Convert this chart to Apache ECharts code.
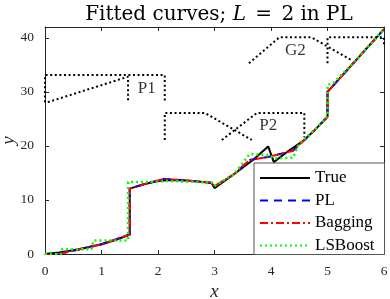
<!DOCTYPE html>
<html>
<head>
<meta charset="utf-8">
<script src="https://cdn.jsdelivr.net/npm/echarts@6/dist/echarts.min.js"></script>
<style>html,body{margin:0;padding:0;background:#fff}#c{width:390px;height:299px}</style>
</head>
<body>
<div id="c"></div>
<script>
// ---- data ----
const seriesNames = ['True', 'PL', 'Bagging', 'LSBoost'];
const xTicks = [0, 1, 2, 3, 4, 5, 6];
const yTicks = [0, 10, 20, 30, 40];

const trueX = [0, 0.25, 0.5, 0.75, 1, 1.25, 1.5, 1.5, 1.75, 2, 2.2, 2.5, 2.8, 2.95, 3, 3.35, 3.68, 3.95, 4.05, 4.3, 4.59, 4.8, 5, 5, 5.5, 6];
const trueY = [0, 0.3, 0.7, 1.2, 1.8, 2.6, 3.6, 12.1, 12.9, 13.5, 13.7, 13.6, 13.3, 13.1, 12.2, 14.8, 17.4, 19.9, 17.0, 19.0, 21.1, 23.2, 25.4, 30.0, 35.8, 41.6];

const plX = [0, 0.1, 0.5, 1, 1.5, 1.5, 1.75, 2.1, 2.5, 2.95, 3.0, 3.35, 3.62, 3.97, 4.39, 4.59, 4.8, 5, 5, 5.5, 6];
const plY = [0, -0.3, 0.6, 1.8, 3.6, 12.1, 12.9, 13.9, 13.6, 13.2, 12.5, 14.8, 17.4, 18.0, 19.1, 21.1, 23.2, 25.4, 30.0, 35.8, 41.6];

const bagX = [0, 0.1, 0.5, 1, 1.5, 1.5, 1.75, 2.1, 2.5, 2.95, 3.0, 3.35, 3.62, 3.97, 4.39, 4.59, 4.8, 5, 5, 5.5, 6];
const bagY = [0, -0.3, 0.6, 1.8, 3.6, 12.1, 12.9, 13.9, 13.6, 13.2, 12.5, 14.8, 17.4, 18.0, 19.1, 21.1, 23.2, 25.4, 30.0, 35.8, 41.6];

const lsbX = [0, 0.28, 0.3, 0.82, 0.86, 1.47, 1.47, 1.8, 2.2, 2.5, 2.95, 3.0, 3.35, 3.62, 3.97, 4.05, 4.39, 4.5, 4.8, 5, 5, 5.1, 5.5, 6];
const lsbY = [0, 0, 0.9, 0.9, 2.5, 2.5, 13.3, 13.3, 13.5, 13.4, 13.2, 12.6, 14.8, 18.5, 18.3, 17.7, 17.8, 20.5, 23.2, 25.5, 31.3, 31.6, 35.8, 41.6];

// dotted annotation shapes (data coordinates)
const annoP1a = [[0, 28.1], [0, 33.1], [2.12, 33.1], [2.12, 28.1]];
const annoP1b = [[0.05, 28.1], [1.47, 32.8], [1.47, 28.1]];
const annoP2a = [[2.12, 21.1], [2.12, 26.1], [2.83, 26.1], [3.66, 21.1]];
const annoP2b = [[3.13, 21.1], [3.75, 26.1], [4.59, 26.1], [4.59, 21.6]];
const annoG2a = [[3.61, 35.3], [4.15, 40.1], [4.71, 40.1], [5.42, 35.9]];
const annoG2b = [[5.0, 35.3], [5.0, 40.1], [6.0, 40.1], [6.0, 38.8]];
const annoLabels = [[1.80, 30.7, 'P1'], [3.95, 23.7, 'P2'], [4.43, 37.7, 'G2']];

// ---- chart ----
const FONT = 'Liberation Serif';
const TFONT = 'DejaVu Serif';
const AX = '#262626';
const zip = (xs, ys) => xs.map((x, i) => [x, ys[i]]);

const chart = echarts.init(document.getElementById('c'), null, {renderer: 'canvas'});

function xAx(pos, labels) {
  return {
    type: 'value', position: pos, min: 0, max: 6, interval: 1,
    axisLine: {show: true, onZero: false, lineStyle: {color: AX, width: 1}},
    axisTick: {show: true, inside: true, length: 4, lineStyle: {color: AX}},
    axisLabel: {show: labels, margin: 10, fontFamily: FONT, fontSize: 13.5, color: AX,
      formatter: v => (xTicks.includes(v) ? String(v) : '')},
    splitLine: {show: false},
    name: labels ? 'x' : '', nameLocation: 'middle', nameGap: 28, nameMoveOverlap: false,
    nameTextStyle: {fontFamily: FONT, fontStyle: 'italic', fontSize: 19, color: AX}
  };
}
function yAx(pos, labels) {
  return {
    type: 'value', position: pos, min: 0, max: 42, interval: 10,
    axisLine: {show: true, onZero: false, lineStyle: {color: AX, width: 1}},
    axisTick: {show: true, inside: true, length: 4, lineStyle: {color: AX}},
    axisLabel: {show: labels, margin: 11, fontFamily: FONT, fontSize: 13.5, color: AX,
      showMaxLabel: false,
      formatter: v => (yTicks.includes(v) ? String(v) : '')},
    splitLine: {show: false},
    name: labels ? 'y' : '', nameLocation: 'middle', nameGap: 27, nameRotate: 90, nameMoveOverlap: false,
    nameTextStyle: {fontFamily: FONT, fontStyle: 'italic', fontSize: 19, color: AX}
  };
}

function anno(d) {
  return {type: 'line', data: d, symbol: 'none', silent: true, z: 1,
    lineStyle: {color: '#000', width: 2, type: [2, 2.6]}};
}

chart.setOption({
  animation: false,
  backgroundColor: '#fff',
  title: {
    text: '{n|Fitted curves; }{i|L}{e| = }{n|2 in PL}',
    left: 214, top: 0, textAlign: 'center',
    textStyle: {fontWeight: 'normal', rich: {
      n: {fontFamily: TFONT, fontSize: 20, fontWeight: 'normal', color: '#000'},
      e: {fontFamily: TFONT, fontSize: 20, fontWeight: 'normal', color: '#000', padding: [0, 3]},
      i: {fontFamily: TFONT, fontSize: 20, fontStyle: 'italic', fontWeight: 'normal', color: '#000'}
    }}
  },
  grid: {left: 45, right: 6, top: 27, bottom: 45, outerBoundsMode: 'none', containLabel: false},
  xAxis: [xAx('bottom', true), xAx('top', false)],
  yAxis: [yAx('left', true), yAx('right', false)],
  legend: {
    data: seriesNames, orient: 'vertical', left: 254, top: 163,
    itemWidth: 50, itemHeight: 14, itemGap: 4.5, itemTextGap: 4,
    padding: [6, 10, 0, 5],
    itemStyle: {opacity: 0},
    backgroundColor: '#fff', borderColor: '#555', borderWidth: 1, borderRadius: 0,
    textStyle: {fontFamily: FONT, fontSize: 17, color: '#000', lineHeight: 18}
  },
  series: [
    anno(annoP1a), anno(annoP1b), anno(annoP2a), anno(annoP2b), anno(annoG2a), anno(annoG2b),
    {type: 'scatter', data: annoLabels.map(a => ({value: [a[0], a[1]], name: a[2]})),
      symbolSize: 0, silent: true,
      label: {show: true, position: 'inside', formatter: p => p.name,
        fontFamily: FONT, fontSize: 17, color: '#000'}},
    {name: 'True', type: 'line', data: zip(trueX, trueY), symbol: 'none', z: 2,
      lineStyle: {color: '#000', width: 2, type: 'solid'}, itemStyle: {color: '#000'}},
    {name: 'PL', type: 'line', data: zip(plX, plY), symbol: 'none', z: 3,
      lineStyle: {color: '#0000ff', width: 2, type: [8, 6]}, itemStyle: {color: '#0000ff'}},
    {name: 'Bagging', type: 'line', data: zip(bagX, bagY), symbol: 'none', z: 4,
      lineStyle: {color: '#ff0000', width: 2, type: [8, 3, 2, 3]}, itemStyle: {color: '#ff0000'}},
    {name: 'LSBoost', type: 'line', data: zip(lsbX, lsbY), symbol: 'none', z: 5,
      lineStyle: {color: '#00ff00', width: 2.5, type: [2, 3]}, itemStyle: {color: '#00ff00'}}
  ]
});
</script>
</body>
</html>
